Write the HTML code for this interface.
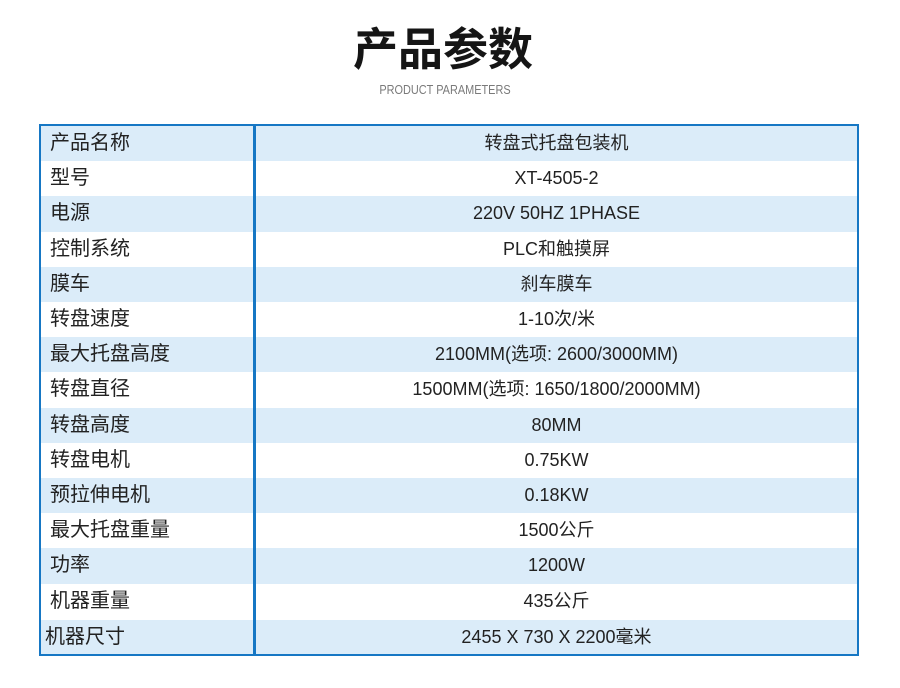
<!DOCTYPE html>
<html>
<head>
<meta charset="utf-8">
<style>
  html, body { margin:0; padding:0; background:#ffffff; }
  body { width:900px; height:688px; position:relative; overflow:hidden;
         font-family:"Liberation Sans","Noto Sans CJK SC",sans-serif; }
  .title { position:absolute; left:343px; top:20px; width:200px; text-align:center;
           font-family:"Liberation Sans","Noto Sans CJK SC",sans-serif;
           font-size:45px; font-weight:bold; color:#151515; line-height:60px; letter-spacing:0px; }
  .sub { position:absolute; left:345px; top:82px; width:200px; text-align:center;
         font-size:13px; color:#7a7a7a; line-height:16px; transform:scaleX(0.84); transform-origin:center; }
  .table { position:absolute; left:39px; top:124px; width:820px; height:532px;
           box-sizing:border-box; border:2px solid #1677c4; overflow:hidden; }
  .row { position:absolute; left:0; width:816px; height:35.2px; }
  .row.b { background:#dbecf9; }
  .lab { position:absolute; left:9px; top:0; height:35.2px; line-height:35.2px;
         font-size:20px; color:#222; white-space:nowrap; }
  .val { position:absolute; left:215px; width:601px; top:0; height:35.2px; line-height:35.2px;
         text-align:center; font-size:18px; color:#222; white-space:nowrap; }
  .div { position:absolute; left:212px; top:0; width:3px; height:528px; background:#1677c4; }
</style>
</head>
<body>
  <div class="title">产品参数</div>
  <div class="sub">PRODUCT PARAMETERS</div>
  <div class="table">
    <div class="row b" style="top:0px"><span class="lab">产品名称</span><span class="val">转盘式托盘包装机</span></div>
    <div class="row" style="top:35.2px"><span class="lab">型号</span><span class="val">XT-4505-2</span></div>
    <div class="row b" style="top:70.4px"><span class="lab">电源</span><span class="val">220V 50HZ 1PHASE</span></div>
    <div class="row" style="top:105.6px"><span class="lab">控制系统</span><span class="val">PLC和触摸屏</span></div>
    <div class="row b" style="top:140.8px"><span class="lab">膜车</span><span class="val">刹车膜车</span></div>
    <div class="row" style="top:176px"><span class="lab">转盘速度</span><span class="val">1-10次/米</span></div>
    <div class="row b" style="top:211.2px"><span class="lab">最大托盘高度</span><span class="val">2100MM(选项: 2600/3000MM)</span></div>
    <div class="row" style="top:246.4px"><span class="lab">转盘直径</span><span class="val">1500MM(选项: 1650/1800/2000MM)</span></div>
    <div class="row b" style="top:281.6px"><span class="lab">转盘高度</span><span class="val">80MM</span></div>
    <div class="row" style="top:316.8px"><span class="lab">转盘电机</span><span class="val">0.75KW</span></div>
    <div class="row b" style="top:352px"><span class="lab">预拉伸电机</span><span class="val">0.18KW</span></div>
    <div class="row" style="top:387.2px"><span class="lab">最大托盘重量</span><span class="val">1500公斤</span></div>
    <div class="row b" style="top:422.4px"><span class="lab">功率</span><span class="val">1200W</span></div>
    <div class="row" style="top:457.6px"><span class="lab">机器重量</span><span class="val">435公斤</span></div>
    <div class="row b" style="top:494px;height:34px"><span class="lab" style="left:4px;height:34px;line-height:34px">机器尺寸</span><span class="val" style="height:34px;line-height:34px">2455 X 730 X 2200毫米</span></div>
    <div class="div"></div>
  </div>
</body>
</html>
